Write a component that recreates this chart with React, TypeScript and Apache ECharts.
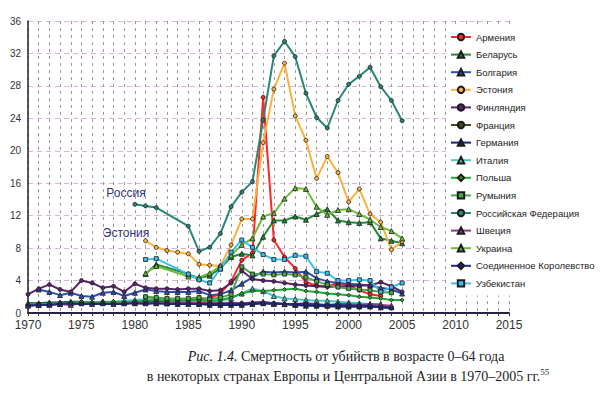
import React, { useEffect, useRef } from "react";
import * as echarts from "echarts";

const N = null;
const YEARS = [
  1970, 1971, 1972, 1973, 1974, 1975, 1976, 1977, 1978, 1979,
  1980, 1981, 1982, 1983, 1984, 1985, 1986, 1987, 1988, 1989,
  1990, 1991, 1992, 1993, 1994, 1995, 1996, 1997, 1998, 1999,
  2000, 2001, 2002, 2003, 2004, 2005,
];

const armenia = [N, N, N, N, N, N, N, N, N, N, N,
  2.0, 1.8, 1.7, 1.6, 1.6, 1.7, 1.8, 2.4, 3.9,
  6.5, 7.4, 26.6, 9.0, 6.9, 5.5, 3.8, 3.4, 3.3, 3.7,
  3.4, 2.8, 2.3, 2.1, N, N];
const belarus = [N, N, N, N, N, N, N, N, N, N, N,
  4.8, 6.0, N, N, 4.8, 4.3, 4.6, 5.5, 6.9,
  7.3, 7.1, 9.4, 11.4, 11.4, 11.9, 11.5, 12.2, 12.8, 11.4,
  11.2, 11.1, 11.2, 9.2, 8.9, 8.6];
const bulgaria = [N, 2.9, 2.6, 2.2, 2.5, 2.1, 2.0, 2.5, 2.6, 2.1,
  2.5, 2.9, 2.7, 2.6, 2.6, 2.6, 2.7, 2.2, 2.3, 2.8,
  3.6, 4.4, 5.1, 5.0, 5.1, 5.0, 5.1, 4.3, 3.9, 3.7,
  3.6, 3.5, 3.4, 3.1, 2.9, 2.4];
const estonia = [N, N, N, N, N, N, N, N, N, N, N,
  8.9, 8.1, 7.7, 7.5, 7.3, 6.0, 5.9, 5.8, 8.4,
  11.6, 11.6, 21.0, 27.6, 30.8, 24.3, 21.3, 16.6, 19.3, 17.3,
  13.7, 15.3, 12.2, 11.2, 7.8, 8.8];
const finland = [2.3, 3.0, 3.5, 2.9, 2.6, 4.0, 3.7, 3.1, 3.3, 2.6,
  3.6, 3.1, 3.0, 3.0, 2.9, 3.0, 3.0, 2.7, 2.8, 3.7,
  5.2, 4.2, 4.0, 3.9, 3.7, 3.5, 3.4, 3.3, 3.2, 3.3,
  3.3, 3.4, 3.4, 3.8, 3.3, 2.6];
const france = [1.0, 1.1, 1.1, 1.2, 1.1, 1.2, 1.2, 1.3, 1.3, 1.3,
  1.4, 1.4, 1.5, 1.4, 1.4, 1.3, 1.2, 1.2, 1.1, 1.2,
  1.2, 1.2, 1.2, 1.2, 1.1, 1.0, 1.0, 0.9, 0.8, 0.8,
  0.8, 0.8, 0.8, 0.8, 0.7, N];
const germany = [1.2, 1.2, 1.3, 1.3, 1.4, 1.4, 1.3, 1.4, 1.3, 1.3,
  1.2, 1.3, 1.2, 1.2, 1.1, 1.1, 1.1, 1.0, 1.0, 1.0,
  1.0, 1.1, 1.2, 1.1, 1.1, 1.0, 0.9, 0.9, 0.9, 0.8,
  0.8, 0.8, 0.8, 0.7, 0.7, N];
const italy = [1.0, 1.0, 1.1, 1.1, 1.2, 1.3, 1.3, 1.4, 1.4, 1.5,
  1.6, 1.7, 1.7, 1.6, 1.5, 1.4, 1.3, 1.4, 1.5, 1.8,
  2.4, 3.0, 2.7, 2.1, 1.8, 1.7, 1.6, 1.5, 1.5, 1.4,
  1.3, 1.2, 1.1, 1.1, N, N];
const poland = [1.1, 1.1, 1.2, 1.2, 1.3, 1.4, 1.3, 1.3, 1.4, 1.3,
  1.4, 1.5, 1.6, 1.5, 1.5, 1.6, 1.5, 1.5, 1.6, 1.9,
  2.4, 2.7, 2.7, 2.8, 2.9, 3.0, 2.7, 2.6, 2.4, 2.3,
  2.2, 2.0, 1.9, 1.8, 1.6, 1.6];
const romania = [N, N, N, N, N, N, N, N, N, N, N,
  2.0, 1.9, 1.8, 1.8, 1.8, 1.9, 1.7, 1.9, 2.3,
  5.7, 4.8, 4.8, 4.7, 4.8, 4.7, 4.4, 3.9, 3.5, 3.2,
  3.0, 2.9, 2.8, 2.6, 2.5, N];
const russia = [N, N, N, N, N, N, N, N, N, N,
  13.4, 13.2, 13.0, N, N, 10.7, 7.6, 8.1, 9.8, 13.1,
  14.9, 16.2, 23.8, 31.7, 33.5, 31.6, 27.1, 24.1, 22.8, 26.2,
  28.2, 29.2, 30.3, 27.9, 26.2, 23.7];
const sweden = [0.9, 1.0, 1.0, 1.1, 1.0, 1.2, 1.1, 1.2, 1.1, 1.2,
  1.3, 1.2, 1.3, 1.2, 1.3, 1.3, 1.2, 1.3, 1.2, 1.3,
  1.2, 1.3, 1.4, 1.2, 1.1, 1.1, 1.2, 1.1, 1.0, 1.1,
  1.1, 1.0, 1.1, 1.0, 0.9, N];
const ukraine = [N, N, N, N, N, N, N, N, N, N, N,
  4.9, 5.8, N, N, 4.5, 4.4, 4.9, 5.8, 7.1,
  8.4, 9.2, 11.9, 12.3, 14.1, 15.4, 15.3, 13.1, 12.1, 12.7,
  12.8, 12.2, 11.5, 10.6, 10.1, 9.2];
const uk = [0.9, 1.0, 1.0, 1.1, 1.2, 1.1, 1.1, 1.1, 1.1, 1.1,
  1.2, 1.1, 1.2, 1.1, 1.1, 1.1, 1.1, 1.1, 1.1, 1.1,
  1.1, 1.2, 1.2, 1.2, 1.1, 1.1, 1.1, 1.0, 1.0, 1.0,
  0.9, 0.9, 0.9, 0.7, 0.6, N];
const uzbekistan = [N, N, N, N, N, N, N, N, N, N, N,
  6.6, 6.7, N, N, 4.8, 4.1, 3.7, 5.4, 7.5,
  9.0, 8.1, 7.2, 6.6, 6.6, 7.1, 7.0, 5.1, 4.9, 4.0,
  4.0, 4.1, 4.0, 2.6, 3.2, 3.7];

const SERIES_DEFS = [
  { name: "Армения", values: armenia, color: "#ff2626", symbol: "circle" },
  { name: "Беларусь", values: belarus, color: "#23893e", symbol: "triangle" },
  { name: "Болгария", values: bulgaria, color: "#3050b0", symbol: "triangle" },
  { name: "Эстония", values: estonia, color: "#fbb040", symbol: "circle" },
  { name: "Финляндия", values: finland, color: "#5a2469", symbol: "circle" },
  { name: "Франция", values: france, color: "#3d4a22", symbol: "circle" },
  { name: "Германия", values: germany, color: "#1c2470", symbol: "triangle" },
  { name: "Италия", values: italy, color: "#4cc6c0", symbol: "triangle" },
  { name: "Польша", values: poland, color: "#22a836", symbol: "diamond" },
  { name: "Румыния", values: romania, color: "#4aa84a", symbol: "rect" },
  { name: "Российская Федерация", values: russia, color: "#2a8577", symbol: "circle" },
  { name: "Швеция", values: sweden, color: "#8e3a8e", symbol: "triangle" },
  { name: "Украина", values: ukraine, color: "#6dbb3a", symbol: "triangle" },
  { name: "Соединенное Королевство", values: uk, color: "#1a2a88", symbol: "diamond" },
  { name: "Узбекистан", values: uzbekistan, color: "#3cc0ee", symbol: "rect" },
];

const Y_MIN = 0;
const Y_MAX = 36;
const Y_STEP = 4;
const X_MIN = 1970;
const X_MAX = 2015;
const X_STEP = 5;

const SANS = "'Liberation Sans', Arial, sans-serif";
const SERIF = "'Liberation Serif', 'Times New Roman', serif";

export default function App() {
  const ref = useRef<HTMLDivElement>(null);

  useEffect(() => {
    if (!ref.current) return;
    const chart = echarts.init(ref.current, null, { renderer: "svg" });

    const series = SERIES_DEFS.map((s) => ({
      name: s.name,
      type: "line",
      data: YEARS.map((y, i) => [y, s.values[i]]).filter((d) => d[1] != null),
      symbol: s.symbol,
      symbolSize: s.symbol === "triangle" ? 5 : 4,
      showSymbol: true,
      lineStyle: { color: s.color, width: 2 },
      itemStyle: { color: s.color, borderColor: "#1a1a1a", borderWidth: 0.8 },
      emphasis: { disabled: true },
      silent: true,
    }));

    chart.setOption({
      animation: false,
      backgroundColor: "#ffffff",
      grid: { left: 28, top: 21, width: 481, height: 292, containLabel: false },
      xAxis: {
        type: "value",
        min: X_MIN,
        max: X_MAX,
        interval: X_STEP,
        axisLine: { show: true, onZero: false, lineStyle: { color: "#23234a", width: 2 } },
        axisTick: { show: true, length: 3, inside: false, lineStyle: { color: "#333" } },
        minorTick: { show: true, splitNumber: 5, length: 3, lineStyle: { color: "#333" } },
        axisLabel: {
          color: "#333",
          fontFamily: SANS,
          fontSize: 12,
          margin: 6,
          formatter: (v: number) => String(v),
        },
        splitLine: { show: true, lineStyle: { color: "#9a9a9a", type: [3, 4], width: 1 } },
        minorSplitLine: { show: true, lineStyle: { color: "#9a9a9a", type: [3, 4], width: 1 } },
      },
      yAxis: {
        type: "value",
        min: Y_MIN,
        max: Y_MAX,
        interval: Y_STEP,
        axisLine: { show: true, lineStyle: { color: "#222", width: 1.5 } },
        axisTick: { show: false },
        axisLabel: { color: "#333", fontFamily: SANS, fontSize: 10, margin: 7 },
        splitLine: { show: true, lineStyle: { color: "#d9b2e3", type: [5, 4], width: 1 } },
      },
      legend: {
        orient: "vertical",
        left: 446,
        top: 25,
        padding: [6, 4, 6, 4],
        backgroundColor: "#ffffff",
        itemWidth: 20,
        itemHeight: 8,
        itemGap: 5.6,
        selectedMode: false,
        textStyle: { color: "#222", fontFamily: SANS, fontSize: 9.5, lineHeight: 12 },
        data: SERIES_DEFS.map((s) => s.name),
      },
      graphic: [
        {
          type: "text",
          x: 126,
          y: 193,
          silent: true,
          style: {
            text: "Россия",
            fill: "#2b2f80",
            font: `12px ${SANS}`,
            align: "center",
            verticalAlign: "middle",
          },
        },
        {
          type: "text",
          x: 126,
          y: 233,
          silent: true,
          style: {
            text: "Эстония",
            fill: "#2b2f80",
            font: `12px ${SANS}`,
            align: "center",
            verticalAlign: "middle",
          },
        },
        {
          type: "text",
          x: 346,
          y: 356,
          silent: true,
          style: {
            text: "{i|Рис. 1.4.} Смертность от убийств в возрасте 0–64 года",
            fill: "#1c1c28",
            font: `14px ${SERIF}`,
            align: "center",
            verticalAlign: "middle",
            rich: {
              i: { fontStyle: "italic", fontFamily: SERIF, fontSize: 14, fill: "#1c1c28" },
            },
          },
        },
        {
          type: "text",
          x: 348,
          y: 376,
          silent: true,
          style: {
            text: "в некоторых странах Европы и Центральной Азии в 1970–2005 гг.{s|55}",
            fill: "#1c1c28",
            font: `14px ${SERIF}`,
            align: "center",
            verticalAlign: "middle",
            rich: {
              s: { fontFamily: SERIF, fontSize: 9, verticalAlign: "top", padding: [0, 0, 8, 0], fill: "#1c1c28" },
            },
          },
        },
      ],
      series,
    });

    return () => chart.dispose();
  }, []);

  return (
    <div
      ref={ref}
      style={{ position: "fixed", left: 0, top: 0, width: 600, height: 395, background: "#fff" }}
    />
  );
}
